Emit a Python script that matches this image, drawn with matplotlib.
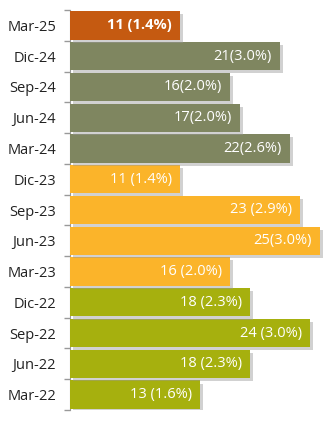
import numpy as np
import matplotlib
matplotlib.use("Agg")
import matplotlib.pyplot as plt
import matplotlib.patheffects as pe

plt.rcParams["font.family"] = ["Open Sans", "DejaVu Sans"]

# quarters, oldest first (drawn bottom to top)
quarters = ["Mar-22", "Jun-22", "Sep-22", "Dic-22",
            "Mar-23", "Jun-23", "Sep-23", "Dic-23",
            "Mar-24", "Jun-24", "Sep-24", "Dic-24",
            "Mar-25"]
counts = [13, 18, 24, 18, 16, 25, 23, 11, 22, 17, 16, 21, 11]
pcts = [1.6, 2.3, 3.0, 2.3, 2.0, 3.0, 2.9, 1.4, 2.6, 2.0, 2.0, 3.0, 1.4]
seps = [" ", " ", " ", " ", " ", "", " ", " ", "", "", "", "", " "]
years = ["2022"] * 4 + ["2023"] * 4 + ["2024"] * 4 + ["2025"]

year_col = {"2022": "#a6b00e", "2023": "#fbb42a",
            "2024": "#7f8660", "2025": "#c55a11"}

fig = plt.figure(figsize=(3.34, 4.25), dpi=100)
ax = fig.add_axes([70 / 334, 15 / 425, 264 / 334, 400 / 425])

y = np.arange(len(quarters))
cols = [year_col[yr] for yr in years]
bars = ax.barh(y, counts, height=0.92, color=cols, zorder=3)
for b in bars:
    b.set_path_effects([pe.SimplePatchShadow(offset=(2.2, -2.2),
                                             shadow_rgbFace="#999999",
                                             alpha=0.45),
                        pe.Normal()])

for i, (c, p, s) in enumerate(zip(counts, pcts, seps)):
    ax.annotate(f"{c}{s}({p:.1f}%)", (c, i), xytext=(-6, 0),
                textcoords="offset points", ha="right", va="center",
                color="white", fontsize=10.5, zorder=4,
                fontweight="bold" if years[i] == "2025" else "normal")

ax.set_xlim(0, 26.4)
ax.set_ylim(-0.5, len(quarters) - 0.5)
ax.set_yticks(y)
ax.set_yticklabels(quarters, fontsize=10.5, color="#222222")
ax.tick_params(axis="y", which="major", length=0, pad=10)
ax.set_yticks(np.arange(-0.5, len(quarters), 1), minor=True)
ax.tick_params(axis="y", which="minor", length=4, color="#999999", width=1)
ax.set_xticks([])
for side in ["top", "right", "bottom"]:
    ax.spines[side].set_visible(False)
ax.spines["left"].set_color("#999999")

fig.savefig("out.png", dpi=100)
